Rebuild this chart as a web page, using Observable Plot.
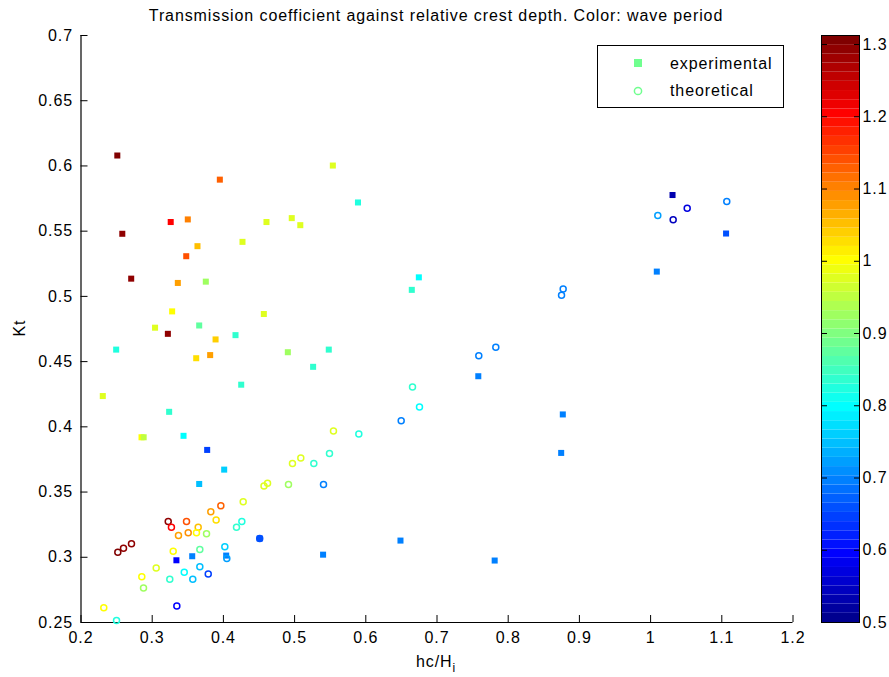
<!DOCTYPE html>
<html><head><meta charset="utf-8">
<script src="https://cdn.jsdelivr.net/npm/d3@7"></script>
<script src="https://cdn.jsdelivr.net/npm/@observablehq/plot@0.6"></script>
<style>
html,body{margin:0;padding:0;background:#fff;}
#wrap{position:relative;width:889px;height:677px;font-family:"Liberation Sans",Arial,sans-serif;}
#wrap svg{position:absolute;top:0;}
</style></head><body><div id="wrap"></div>
<script>
// experimental (filled squares)
const expHc = [0.251,0.395,0.326,0.350,0.258,0.4605,0.496,0.508,0.3636,0.4268,0.3478,0.2705,0.336,0.3753,0.328,0.4568,0.304,0.366,0.5537,0.589,0.6745,0.6646,0.322,0.389,0.417,0.2494,0.3814,0.3618,0.4905,0.425,0.2306,0.3238,0.285,0.288,0.344,0.3772,0.4011,0.366,0.451,0.334,0.3562,0.4039,0.548,0.526,0.758,0.6487,0.540,0.781,1.0308,1.106,1.0087,0.8767,0.8744];
const expKt = [0.608,0.5895,0.557,0.559,0.548,0.557,0.560,0.5546,0.5385,0.5418,0.5308,0.5136,0.5103,0.5113,0.4885,0.4865,0.476,0.4777,0.6003,0.572,0.5146,0.505,0.4713,0.467,0.4703,0.4592,0.455,0.4526,0.4572,0.4323,0.4236,0.4115,0.392,0.392,0.3931,0.3823,0.3672,0.3562,0.3144,0.2977,0.3008,0.3013,0.4592,0.446,0.4388,0.3128,0.302,0.2975,0.5777,0.5482,0.519,0.4095,0.38];
const expT = [1.30,1.13,1.21,1.10,1.29,0.97,0.97,0.97,1.05,0.97,1.14,1.29,1.08,0.93,1.0,0.97,0.98,0.87,0.97,0.82,0.80,0.84,1.29,1.04,0.84,0.83,1.08,1.03,0.92,0.84,0.97,0.84,1.0,0.95,0.80,0.64,0.76,0.75,0.66,0.60,0.70,0.70,0.84,0.84,0.70,0.70,0.70,0.70,0.53,0.66,0.70,0.70,0.70];
// theoretical (open circles)
const thHc = [1.107,1.0514,1.0101,1.0317,0.8772,0.8749,0.7826,0.7587,0.6656,0.6754,0.6497,0.5546,0.5902,0.5087,0.549,0.527,0.5406,0.497,0.457,0.462,0.4914,0.4278,0.3964,0.3823,0.3898,0.4259,0.4184,0.3225,0.327,0.3482,0.3646,0.3506,0.3622,0.3763,0.3369,0.2709,0.2597,0.2517,0.451,0.402,0.4048,0.3669,0.3295,0.3056,0.2854,0.2878,0.3247,0.345,0.357,0.3669,0.3787,0.3346,0.232,0.2499];
const thKt = [0.5728,0.5675,0.5621,0.5588,0.5057,0.5008,0.4611,0.4544,0.4305,0.4152,0.4046,0.3969,0.3946,0.3762,0.3795,0.3718,0.3557,0.3718,0.3547,0.3567,0.3557,0.3426,0.3395,0.3349,0.3285,0.3275,0.3231,0.3275,0.3231,0.3275,0.3231,0.3188,0.3188,0.318,0.3167,0.3103,0.3069,0.3039,0.3144,0.308,0.299,0.3059,0.3046,0.2918,0.2851,0.2765,0.2831,0.2885,0.2831,0.2928,0.2872,0.2626,0.2613,0.2515];
const thT = [0.70,0.57,0.72,0.55,0.70,0.70,0.70,0.70,0.84,0.80,0.70,0.97,0.82,0.97,0.84,0.84,0.70,0.97,0.97,0.97,0.92,0.97,1.13,1.08,1.03,0.82,0.84,1.29,1.21,1.14,1.05,1.09,1.0,0.93,1.08,1.29,1.29,1.30,0.66,0.76,0.72,0.87,1.0,0.98,1.0,0.93,0.84,0.80,0.75,0.75,0.64,0.60,1.0,0.82];

const xTicks = [0.2,0.3,0.4,0.5,0.6,0.7,0.8,0.9,1.0,1.1,1.2];
const yTicks = [0.25,0.3,0.35,0.4,0.45,0.5,0.55,0.6,0.65,0.7];
const cTicks = [0.5,0.6,0.7,0.8,0.9,1.0,1.1,1.2,1.3];
const cMin = 0.5, cMax = 1.3125;
const legendLabels = ["experimental","theoretical"];
const legendT = 0.89;
const titleText = "Transmission coefficient against relative crest depth. Color: wave period";

function jet(t){
  const c = v => Math.max(0, Math.min(1, v));
  const r = c(1.5 - Math.abs(4*t - 3)), g = c(1.5 - Math.abs(4*t - 2)), b = c(1.5 - Math.abs(4*t - 1));
  return `rgb(${Math.round(r*255)},${Math.round(g*255)},${Math.round(b*255)})`;
}
function jet64(t){ let i = Math.floor(t*64); i = Math.max(0, Math.min(63, i)); return jet((i+1)/64); }
const fmt = d => String(Math.round(d*100)/100);

const exp = expHc.map((x,i)=>({x, y: expKt[i], T: expT[i]}));
const th = thHc.map((x,i)=>({x, y: thKt[i], T: thT[i]}));

const W = 889, H = 677, mL = 80.5, mR = 96.5, mT = 35, mB = 55;
const LS = "0.9px";
const font = {fontSize: "16px", fontFamily: '"Liberation Sans", Arial, sans-serif', letterSpacing: LS, color: "#000", background: "transparent", overflow: "visible"};
const colorOpt = {type: "linear", domain: [cMin, cMax], interpolate: jet64, clamp: true};

const main = Plot.plot({
  width: W, height: H, marginLeft: mL, marginRight: mR, marginTop: mT, marginBottom: mB,
  style: font,
  x: {domain: [0.2, 1.2]},
  y: {domain: [0.25, 0.7]},
  color: colorOpt,
  marks: [
    Plot.axisX({ticks: xTicks, tickSize: 7, tickPadding: 2, tickFormat: fmt, label: null, stroke: "#000"}),
    Plot.axisY({ticks: yTicks, tickSize: 7, tickPadding: 1, tickFormat: fmt, label: null, stroke: "#000"}),
    Plot.ruleX([0.2], {stroke: "#000", strokeWidth: 1.2}),
    Plot.ruleY([0.25], {stroke: "#000", strokeWidth: 1.2}),
    Plot.dot(exp, {x: "x", y: "y", fill: "T", symbol: "square", r: 3.4}),
    Plot.dot(th, {x: "x", y: "y", stroke: "T", fill: "none", r: 3, strokeWidth: 1.5})
  ]
});

const bands = d3.range(64).map(i => ({y1: cMin + i*(cMax-cMin)/64, y2: cMin + (i+1)*(cMax-cMin)/64, v: cMin + (i+0.5)*(cMax-cMin)/64}));
const cbar = Plot.plot({
  width: 80, height: H, marginLeft: 12, marginRight: 30, marginTop: mT, marginBottom: mB,
  style: font,
  x: {domain: [0, 1], axis: null},
  y: {domain: [cMin, cMax]},
  color: colorOpt,
  marks: [
    Plot.rectY(bands, {x1: 0, x2: 1, y1: "y1", y2: "y2", fill: "v"}),
    Plot.axisY({anchor: "right", ticks: cTicks, tickSize: 3, tickPadding: 0, tickFormat: fmt, label: null, stroke: "#000"}),
    Plot.axisY({anchor: "left", ticks: cTicks, tickSize: 6, tickPadding: 0, tickFormat: () => "", label: null, stroke: "#000"}),
    Plot.frame({stroke: "#000"})
  ]
});

const wrap = document.getElementById("wrap");
wrap.appendChild(main);
cbar.style.left = "809px";
wrap.appendChild(cbar);

// turn ticks inward (MATLAB style)
const svg = d3.select(main);
svg.selectAll('g[aria-label="x-axis tick"] path').attr("d", "M0,0L0,-7");
svg.selectAll('g[aria-label="y-axis tick"] path').attr("d", "M0,0L7,0");
const cTickGroups = d3.select(cbar).selectAll('g[aria-label="y-axis tick"]').nodes();
if (cTickGroups[0]) d3.select(cTickGroups[0]).selectAll("path").attr("d", "M0,0L-6,0");
if (cTickGroups[1]) d3.select(cTickGroups[1]).selectAll("path").attr("d", "M0,0L6,0");

const ff = '"Liberation Sans", Arial, sans-serif';
const txt = (sel) => sel.attr("font-size", 16).attr("font-family", ff).attr("fill", "#000").style("letter-spacing", LS);
txt(svg.append("text").attr("x", 436).attr("y", 21).attr("text-anchor", "middle")).text(titleText);
txt(svg.append("text").attr("transform", "translate(25,328) rotate(-90)").attr("text-anchor", "middle")).text("Kt");
const xl = txt(svg.append("text").attr("x", 436).attr("y", 667).attr("text-anchor", "middle"));
xl.append("tspan").text("hc/H");
xl.append("tspan").attr("dy", 5).attr("font-size", 12).text("i");

// legend
const lc = jet64((legendT-cMin)/(cMax-cMin));
const lg = svg.append("g");
lg.append("rect").attr("x", 597.5).attr("y", 45.5).attr("width", 186).attr("height", 62).attr("fill", "#fff").attr("stroke", "#000");
lg.append("rect").attr("x", 634).attr("y", 59).attr("width", 8).attr("height", 8).attr("fill", lc).attr("stroke", "none");
lg.append("circle").attr("cx", 638).attr("cy", 91).attr("r", 3.6).attr("fill", "none").attr("stroke-width", 1.5).attr("stroke", lc);
txt(lg.append("text").attr("x", 670).attr("y", 69).attr("text-anchor", "start")).text(legendLabels[0]);
txt(lg.append("text").attr("x", 670).attr("y", 96).attr("text-anchor", "start")).text(legendLabels[1]);
</script></body></html>
